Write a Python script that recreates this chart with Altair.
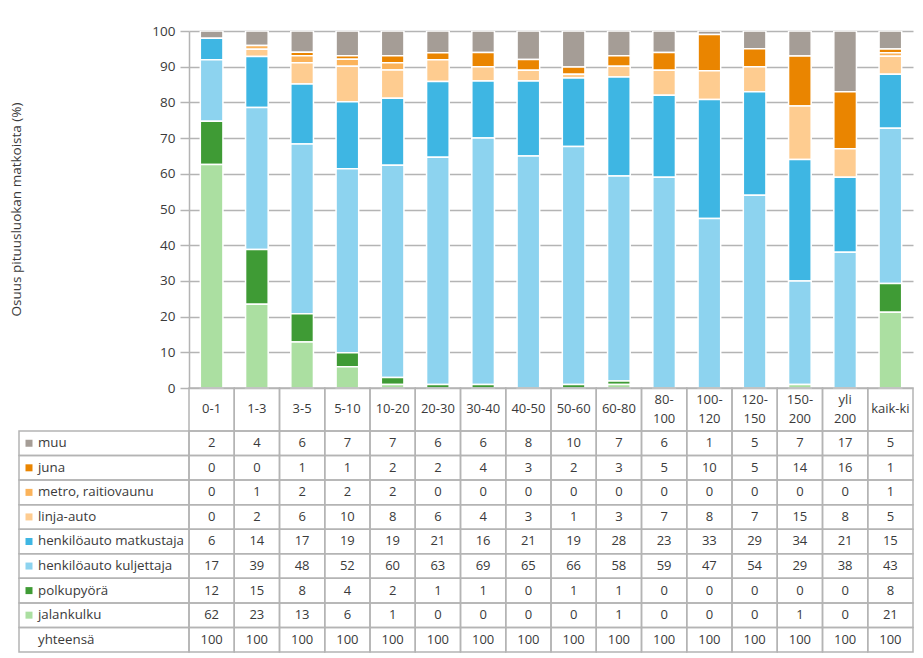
import altair as alt
import pandas as pd

categories = ["0-1", "1-3", "3-5", "5-10", "10-20", "20-30", "30-40", "40-50",
              "50-60", "60-80", "80-\n100", "100-\n120", "120-\n150", "150-\n200",
              "yli\n200", "kaik-ki"]

series_names = ["muu", "juna", "metro, raitiovaunu", "linja-auto",
                "henkilöauto matkustaja", "henkilöauto kuljettaja",
                "polkupyörä", "jalankulku"]
series_colors = ["#a59d96", "#ea8500", "#fbb35a", "#fecc90",
                 "#3eb6e3", "#8dd3ef", "#3f9b35", "#abdfa1"]

muu = [2, 4, 6, 7, 7, 6, 6, 8, 10, 7, 6, 1, 5, 7, 17, 5]
juna = [0, 0, 1, 1, 2, 2, 4, 3, 2, 3, 5, 10, 5, 14, 16, 1]
metro = [0, 1, 2, 2, 2, 0, 0, 0, 0, 0, 0, 0, 0, 0, 0, 1]
linja_auto = [0, 2, 6, 10, 8, 6, 4, 3, 1, 3, 7, 8, 7, 15, 8, 5]
ha_matkustaja = [6, 14, 17, 19, 19, 21, 16, 21, 19, 28, 23, 33, 29, 34, 21, 15]
ha_kuljettaja = [17, 39, 48, 52, 60, 63, 69, 65, 66, 58, 59, 47, 54, 29, 38, 43]
polkupyora = [12, 15, 8, 4, 2, 1, 1, 0, 1, 1, 0, 0, 0, 0, 0, 8]
jalankulku = [62, 23, 13, 6, 1, 0, 0, 0, 0, 1, 0, 0, 0, 1, 0, 21]
yhteensa = [100, 100, 100, 100, 100, 100, 100, 100, 100, 100, 100, 100, 100, 100, 100, 100]
total_label = "yhteensä"

y_title = "Osuus pituusluokan matkoista (%)"
y_ticks = [0, 0.1, 0.2, 0.3, 0.4, 0.5, 0.6, 0.7, 0.8, 0.9, 1.0]

FONT = "Open Sans"
TEXT = "#3a3a3a"
GRID = "#b4b4b4"

series_values = [muu, juna, metro, linja_auto, ha_matkustaja, ha_kuljettaja,
                 polkupyora, jalankulku]

HEADER = 1.75
n_series = len(series_names)

recs = []
for r, (name, vals) in enumerate(zip(series_names + [total_label],
                                     series_values + [yhteensa])):
    for c, v in zip(categories, vals):
        recs.append({"cat": c, "series": name, "value": v,
                     "stack": (n_series - 1 - r) if r < n_series else -1,
                     "top": HEADER + r, "bottom": HEADER + r + 1,
                     "mid": HEADER + r + 0.5})
df = pd.DataFrame(recs)
bars_df = df[(df["series"] != total_label) & (df["value"] > 0)]

header_df = pd.DataFrame({"cat": categories, "top": 0.0, "bottom": HEADER,
                          "mid": HEADER / 2,
                          "two": ["\n" in c for c in categories]})
header_one = header_df[~header_df["two"]]
header_two = header_df[header_df["two"]]

left_df = pd.DataFrame({
    "label": series_names + [total_label],
    "series": series_names + [total_label],
    "top": [HEADER + r for r in range(n_series + 1)],
    "bottom": [HEADER + r + 1 for r in range(n_series + 1)],
    "mid": [HEADER + r + 0.5 for r in range(n_series + 1)],
})
swatch_df = left_df[left_df["series"] != total_label]

X = alt.X("cat:N", scale=alt.Scale(domain=categories, paddingInner=0,
                                   paddingOuter=0), axis=None)
row_scale = alt.Scale(domain=[0, HEADER + n_series + 1], range=[357, 621])
color = alt.Color("series:N", scale=alt.Scale(domain=series_names,
                                              range=series_colors), legend=None)

bars = alt.Chart(bars_df).mark_bar(
    width={"band": 0.5}, stroke="white", strokeWidth=1.5, clip=True
).encode(
    x=X,
    y=alt.Y("value:Q", stack="normalize",
            scale=alt.Scale(domain=[0, 1], range=[357, 0]),
            axis=alt.Axis(values=y_ticks, title=y_title, tickSize=9,
                          labelExpr="format(datum.value * 100, 'd')",
                          labelPadding=5, gridColor=GRID, gridWidth=1.5,
                          domainColor=GRID, domainWidth=1.5, tickColor=GRID,
                          tickWidth=1.5, labelFont=FONT, labelFontSize=13.5,
                          labelColor=TEXT, titleFont=FONT, titleFontSize=13.5,
                          titleFontWeight="normal", titleColor=TEXT,
                          titleX=-166, titleY=178, titleAngle=270,
                          titleBaseline="bottom", titleAlign="center")),
    color=color,
    order=alt.Order("stack:Q"),
)

header_cells = alt.Chart(header_df).mark_rect(
    fill="white", fillOpacity=0, stroke=GRID, strokeWidth=1.5
).encode(
    x=X,
    y=alt.Y("top:Q", scale=row_scale, axis=None),
    y2="bottom:Q",
)

cells = alt.Chart(df).mark_rect(
    fill="white", fillOpacity=0, stroke=GRID, strokeWidth=1.5
).encode(
    x=X,
    y=alt.Y("top:Q", scale=row_scale, axis=None),
    y2="bottom:Q",
)

left_cells = alt.Chart(left_df).mark_rect(
    fill="white", fillOpacity=0, stroke=GRID, strokeWidth=1.5
).encode(
    x=alt.value(-170), x2=alt.value(0),
    y=alt.Y("top:Q", scale=row_scale, axis=None),
    y2="bottom:Q",
)

swatches = alt.Chart(swatch_df).mark_square(size=49, opacity=1).encode(
    x=alt.value(-160),
    y=alt.Y("mid:Q", scale=row_scale, axis=None),
    color=color,
)

left_labels = alt.Chart(left_df).mark_text(
    align="left", baseline="middle", font=FONT, fontSize=13.3, color=TEXT
).encode(
    x=alt.value(-151),
    y=alt.Y("mid:Q", scale=row_scale, axis=None),
    text="label:N",
)

numbers = alt.Chart(df).mark_text(
    align="center", baseline="middle", font=FONT, fontSize=13, color=TEXT
).encode(
    x=X,
    y=alt.Y("mid:Q", scale=row_scale, axis=None),
    text="value:Q",
)

header_text1 = alt.Chart(header_one).mark_text(
    align="center", baseline="middle", font=FONT, fontSize=13, color=TEXT
).encode(
    x=X,
    y=alt.Y("mid:Q", scale=row_scale, axis=None),
    text="cat:N",
)

header_text2 = alt.Chart(header_two).mark_text(
    align="center", baseline="middle", font=FONT, fontSize=13, color=TEXT,
    lineBreak="\n", lineHeight=19, dy=-9.5
).encode(
    x=X,
    y=alt.Y("mid:Q", scale=row_scale, axis=None),
    text="cat:N",
)

chart = alt.layer(
    bars, header_cells, cells, left_cells, swatches, left_labels, numbers,
    header_text1, header_text2
).resolve_scale(y="independent").properties(
    width=724, height=621,
    autosize=alt.AutoSizeParams(type="none"),
    padding={"left": 181, "top": 23, "right": 2, "bottom": 2},
).configure_view(stroke=None)

chart.save("out.html", embed_options={"renderer": "svg", "actions": False})
